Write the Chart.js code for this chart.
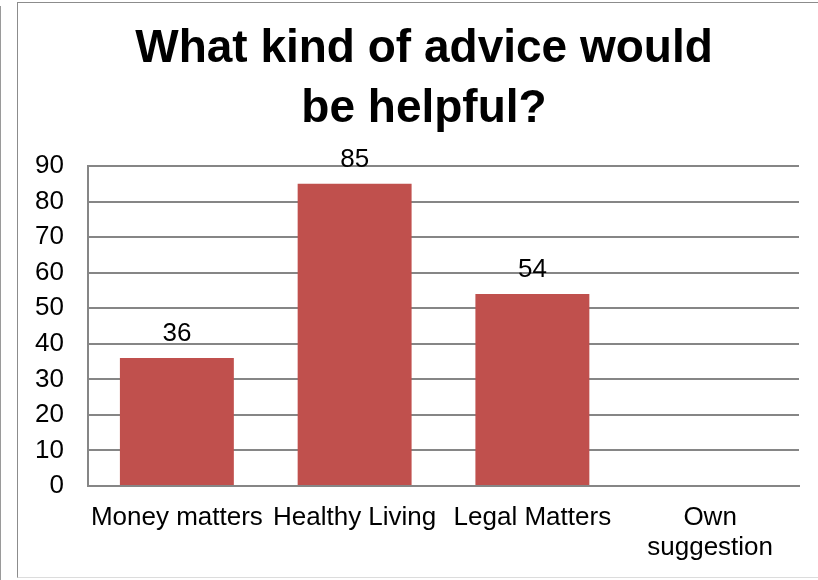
<!DOCTYPE html>
<html>
<head>
<meta charset="utf-8">
<title>Advice survey</title>
<script src="https://cdn.jsdelivr.net/npm/chart.js@4/dist/chart.umd.min.js"></script>
<style>
    html, body { margin: 0; padding: 0; background: #fff; overflow: hidden; }
    .side-line { position: absolute; left: 0; top: 6px; width: 1px; height: 574px; background: #9a9a9a; }
    .frame {
        position: absolute; left: 17px; top: 2px; width: 812px; height: 574px;
        border: 1px solid #8c8c8c; border-bottom-color: #dcdcdc;
    }
</style>
</head>
<body>
<div class="side-line"></div>
<div class="frame"><canvas id="adviceChart" width="812" height="574"></canvas></div>
<script>
// Survey answers
const categories = ["Money matters", "Healthy Living", "Legal Matters", ["Own", "suggestion"]];
const answers = [36, 85, 54, null];
const yTicks = [0, 10, 20, 30, 40, 50, 60, 70, 80, 90];

const fontFamily = "'Liberation Sans', Arial, sans-serif";

// Value written above each bar
const barValues = {
    id: "barValues",
    afterDatasetsDraw(chart) {
        const ctx = chart.ctx;
        const meta = chart.getDatasetMeta(0);
        ctx.save();
        ctx.font = "26px " + fontFamily;
        ctx.fillStyle = "#000";
        ctx.textAlign = "center";
        ctx.textBaseline = "alphabetic";
        meta.data.forEach((bar, i) => {
            if (answers[i] == null) return;
            ctx.fillText(String(answers[i]), bar.x, bar.y - 17);
        });
        ctx.restore();
    }
};

const ctx = document.getElementById("adviceChart").getContext("2d");
new Chart(ctx, {
    type: "bar",
    data: {
        labels: categories,
        datasets: [{
            data: answers,
            backgroundColor: "#C0504D",
            borderWidth: 0,
            categoryPercentage: 1,
            barPercentage: 0.641
        }]
    },
    options: {
        responsive: false,
        animation: false,
        layout: { padding: 0 },
        plugins: {
            legend: { display: false },
            tooltip: { enabled: false },
            title: {
                display: true,
                text: ["What kind of advice would", "be helpful?"],
                color: "#000",
                font: { family: fontFamily, size: 46, weight: "bold", lineHeight: 60 / 46 },
                padding: { top: 16, bottom: 27 }
            }
        },
        scales: {
            x: {
                grid: { display: false, drawTicks: false },
                border: { display: true, color: "#868686", width: 2 },
                ticks: {
                    color: "#000",
                    maxRotation: 0,
                    autoSkip: false,
                    padding: 17,
                    font: { family: fontFamily, size: 26, lineHeight: 30 / 26 }
                },
                afterFit(scale) { scale.height = 91; }
            },
            y: {
                min: 0,
                max: 90,
                afterBuildTicks(scale) { scale.ticks = yTicks.map(v => ({ value: v })); },
                grid: { color: "#868686", lineWidth: 2, drawTicks: false },
                border: { display: true, color: "#868686", width: 2 },
                ticks: {
                    color: "#000",
                    padding: 24,
                    font: { family: fontFamily, size: 26 }
                },
                afterFit(scale) { scale.width = 70; }
            },
            // empty strip on the right so the plot stops short of the frame
            spacer: {
                type: "linear",
                position: "right",
                grid: { display: false, drawTicks: false },
                border: { display: false },
                ticks: { display: false },
                afterFit(scale) { scale.width = 31; }
            }
        }
    },
    plugins: [barValues]
});
</script>
</body>
</html>
